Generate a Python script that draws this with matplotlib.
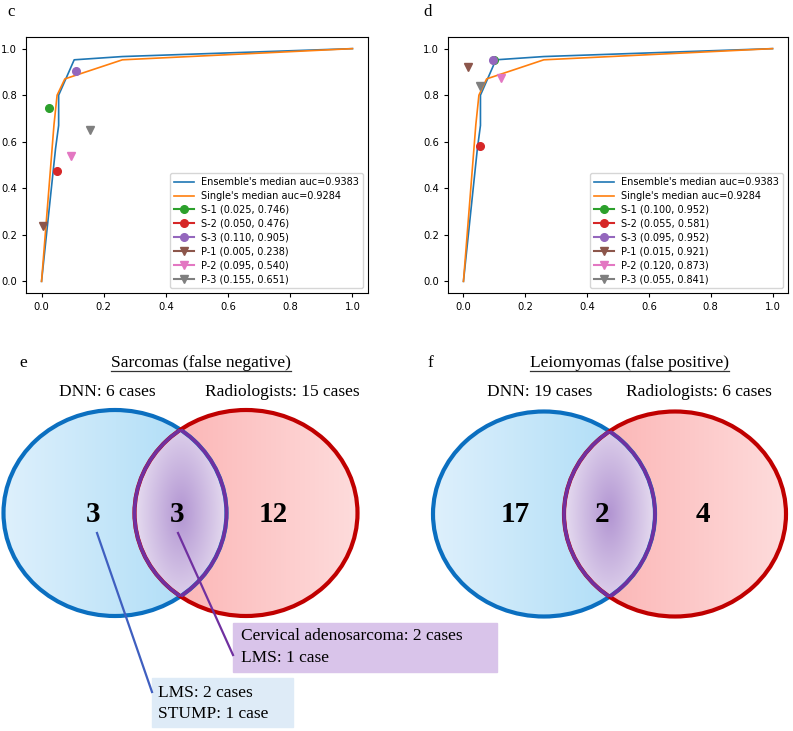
import numpy as np
import matplotlib
matplotlib.use("Agg")
import matplotlib.pyplot as plt
from matplotlib.patches import Ellipse, Rectangle

# ROC curves (same in both panels)
ens_fpr = [0.0, 0.045, 0.055, 0.055, 0.105, 0.26, 1.0]
ens_tpr = [0.0, 0.57, 0.67, 0.80, 0.952, 0.966, 1.0]
single_fpr = [0.0, 0.04, 0.05, 0.075, 0.26, 1.0]
single_tpr = [0.0, 0.673, 0.80, 0.87, 0.952, 1.0]

reader_names = ["S-1", "S-2", "S-3", "P-1", "P-2", "P-3"]
reader_markers = ["o", "o", "o", "v", "v", "v"]
reader_colors = ["tab:green", "tab:red", "tab:purple", "tab:brown", "tab:pink", "tab:gray"]
c_fpr = [0.025, 0.050, 0.110, 0.005, 0.095, 0.155]
c_tpr = [0.746, 0.476, 0.905, 0.238, 0.540, 0.651]
d_fpr = [0.100, 0.055, 0.095, 0.015, 0.120, 0.055]
d_tpr = [0.952, 0.581, 0.952, 0.921, 0.873, 0.841]

# Venn panels: counts are DNN only, both, radiologists only
e_counts = [3, 3, 12]
f_counts = [17, 2, 4]
e_title = "Sarcomas (false negative)"
f_title = "Leiomyomas (false positive)"
e_sets = ["DNN: 6 cases", "Radiologists: 15 cases"]
f_sets = ["DNN: 19 cases", "Radiologists: 6 cases"]

serif = "Liberation Serif"
W, H = 793, 731
fig = plt.figure(figsize=(W / 100, H / 100), dpi=100)

# overlay in pixel coordinates
ov = fig.add_axes([0, 0, 1, 1])
ov.set_xlim(0, W)
ov.set_ylim(H, 0)
ov.axis("off")


def roc_panel(rect, fpr, tpr):
    ax = fig.add_axes(rect)
    ax.plot(ens_fpr, ens_tpr, color="tab:blue", lw=1.2, label="Ensemble's median auc=0.9383")
    ax.plot(single_fpr, single_tpr, color="tab:orange", lw=1.2, label="Single's median auc=0.9284")
    for name, m, c, x, y in zip(reader_names, reader_markers, reader_colors, fpr, tpr):
        ax.plot([x], [y], marker=m, color=c, ms=5.5, ls="-",
                label=f"{name} ({x:.3f}, {y:.3f})")
    ax.tick_params(labelsize=7.2, length=3)
    ax.legend(loc="lower right", fontsize=7, labelspacing=0.4)
    return ax


roc_panel([26 / W, 1 - 293 / H, 342 / W, 256 / H], c_fpr, c_tpr)
roc_panel([448 / W, 1 - 293 / H, 340 / W, 256 / H], d_fpr, d_tpr)
fig.text(7 / W, 1 - 12 / H, "c", family=serif, fontsize=12, va="center")
fig.text(423 / W, 1 - 12 / H, "d", family=serif, fontsize=12, va="center")


def mix(c1, c2, t):
    c1 = np.array(matplotlib.colors.to_rgb(c1))
    c2 = np.array(matplotlib.colors.to_rgb(c2))
    t = np.clip(t, 0, 1)[..., None]
    return c1 * (1 - t) + c2 * t


def venn(bx, rx, cy, w, h, counts, num_x, label, label_x, title, title_x, sets, set_x):
    a, b = w / 2, h / 2
    x0, x1 = bx - a - 2, rx + a + 2
    y0, y1 = cy - b - 2, cy + b + 2
    xs = np.arange(x0, x1, 0.5)
    ys = np.arange(y0, y1, 0.5)
    X, Y = np.meshgrid(xs, ys)
    in_b = ((X - bx) / a) ** 2 + ((Y - cy) / b) ** 2 <= 1
    in_r = ((X - rx) / a) ** 2 + ((Y - cy) / b) ** 2 <= 1
    img = np.zeros(X.shape + (4,))
    blue = mix("#def0fc", "#a6daf6", (X - (bx - a)) / w)
    red = mix("#fbaeae", "#fedcdc", (X - (rx - a)) / w)
    lx = (bx + rx) / 2
    rad = np.sqrt(((X - lx) / (w - (rx - bx)) * 2) ** 2 + ((Y - cy) / b) ** 2)
    lens = mix("#b295d2", "#e6dcf0", rad)
    img[in_b, :3] = blue[in_b]
    img[in_r, :3] = red[in_r]
    both = in_b & in_r
    img[both, :3] = lens[both]
    img[in_b | in_r, 3] = 1
    ov.imshow(img, extent=(x0, x1, y1, y0), interpolation="antialiased", zorder=1)

    ov.add_patch(Ellipse((bx, cy), w, h, fill=False, ec="#0b6fc0", lw=3, zorder=2))
    ov.add_patch(Ellipse((rx, cy), w, h, fill=False, ec="#c00000", lw=3, zorder=2))
    clip_b = Ellipse((bx, cy), w, h, fill=False, lw=0, visible=False)
    clip_r = Ellipse((rx, cy), w, h, fill=False, lw=0, visible=False)
    ov.add_patch(clip_b)
    ov.add_patch(clip_r)
    pb = Ellipse((bx, cy), w, h, fill=False, ec="#7030a0", lw=2.6, zorder=3)
    pr = Ellipse((rx, cy), w, h, fill=False, ec="#7030a0", lw=2.6, zorder=3)
    ov.add_patch(pb)
    ov.add_patch(pr)
    pb.set_clip_path(clip_r)
    pr.set_clip_path(clip_b)

    for x, n in zip(num_x, counts):
        ov.text(x, cy + 1, str(n), family=serif, fontsize=21, fontweight="bold",
                ha="center", va="center", zorder=5)

    ov.text(label_x, 363, label, family=serif, fontsize=12.5, va="center")
    t = ov.text(title_x, 363, title, family=serif, fontsize=12.5,
                ha="center", va="center")
    ov.text(set_x[0], 392, sets[0], family=serif, fontsize=12.5, ha="center", va="center")
    ov.text(set_x[1], 392, sets[1], family=serif, fontsize=12.5, ha="center", va="center")
    # underline the title
    fig.canvas.draw()
    bb = t.get_window_extent().transformed(ov.transData.inverted())
    ov.plot([bb.x0, bb.x1], [371, 371], color="#333333", lw=0.9)


venn(115, 246, 513, 223, 206, e_counts, (93, 177, 273), "e", 19, e_title, 201,
     e_sets, (107, 282))
venn(544, 675, 514, 222, 205, f_counts, (515, 602, 703), "f", 428, f_title, 629,
     f_sets, (540, 699))

# callout boxes for panel e
ov.add_patch(Rectangle((233, 623), 264, 49, color="#d9c4ea", zorder=4))
ov.add_patch(Rectangle((152, 678), 141, 49, color="#deebf7", zorder=4))
ov.plot([178, 233], [533, 655], color="#7030a0", lw=1.6, zorder=4)
ov.plot([97, 152], [533, 692], color="#3f5fc0", lw=1.6, zorder=4)
ov.text(241, 636, "Cervical adenosarcoma: 2 cases", family=serif, fontsize=12.5,
        va="center", zorder=5)
ov.text(241, 658, "LMS: 1 case", family=serif, fontsize=12.5, va="center", zorder=5)
ov.text(158, 693, "LMS: 2 cases", family=serif, fontsize=12.5, va="center", zorder=5)
ov.text(158, 714, "STUMP: 1 case", family=serif, fontsize=12.5, va="center", zorder=5)

fig.savefig("out.png", dpi=100)
